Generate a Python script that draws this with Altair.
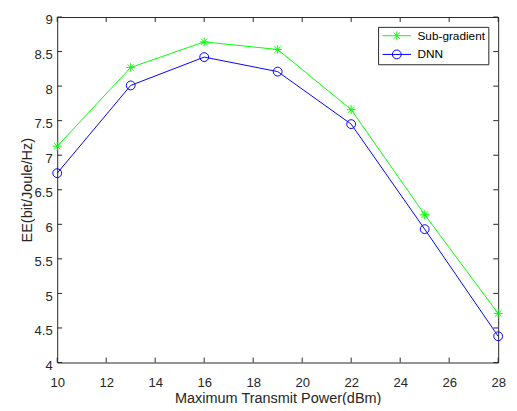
import altair as alt
import pandas as pd

power = [10, 13, 16, 19, 22, 25, 28]
sub_gradient = [7.13, 8.27, 8.64, 8.53, 7.66, 6.14, 4.71]
dnn = [6.74, 8.01, 8.42, 8.21, 7.45, 5.93, 4.38]
series_names = ["Sub-gradient", "DNN"]
series_colors = ["#00FF00", "#0000FF"]
x_ticks = [10, 12, 14, 16, 18, 20, 22, 24, 26, 28]
y_ticks = [4, 4.5, 5, 5.5, 6, 6.5, 7, 7.5, 8, 8.5, 9]

W, H = 448, 351
TICK = 5
AX = "#262626"

df = pd.DataFrame({
    "power": power + power,
    "ee": sub_gradient + dnn,
    "series": [series_names[0]] * len(power) + [series_names[1]] * len(power),
})
xt = pd.DataFrame({"power": x_ticks})
yt = pd.DataFrame({"ee": y_ticks})

star = "M-1,0L1,0M0,-1L0,1M-0.72,-0.72L0.72,0.72M-0.72,0.72L0.72,-0.72"
circ = "M-1,0A1,1 0 1,0 1,0A1,1 0 1,0 -1,0Z"
leg_star = "M-1,0L5.44,0M2.22,-1L2.22,1M1.5,-0.72L2.94,0.72M1.5,0.72L2.94,-0.72"
leg_circ = "M-1,0L5.44,0M1.22,0A1,1 0 1,0 3.22,0A1,1 0 1,0 1.22,0Z"

xs = alt.Scale(domain=[10, 28], nice=False, zero=False)
ys = alt.Scale(domain=[4, 9], nice=False, zero=False)
cs = alt.Scale(domain=series_names, range=series_colors)

x_axis = alt.Axis(values=x_ticks, title="Maximum Transmit Power(dBm)", format="~g")
y_axis = alt.Axis(values=y_ticks, title="EE(bit/Joule/Hz)", format="~g")


def X():
    return alt.X("power:Q", scale=xs, axis=x_axis)


def Y():
    return alt.Y("ee:Q", scale=ys, axis=y_axis)


layers = []
for name, col, shp in zip(series_names, series_colors, [star, circ]):
    base = alt.Chart(df).transform_filter(alt.datum.series == name)
    layers.append(base.mark_line(strokeWidth=1, color=col).encode(x=X(), y=Y()))
    layers.append(base.mark_point(shape=shp, size=81, filled=False, strokeWidth=1,
                                  color=col, opacity=1).encode(x=X(), y=Y()))

leg = alt.Legend(
    title=None, orient="none", legendX=326, legendY=10,
    fillColor="white", strokeColor=AX, padding=3, symbolSize=81,
    symbolStrokeWidth=1, labelFontSize=12, labelColor="#000000",
    labelOffset=25, rowPadding=5, cornerRadius=0)

legend_layer = alt.Chart(df).transform_filter("false").mark_point(
    size=81, filled=False, strokeWidth=1, opacity=1
).encode(
    x=X(), y=Y(),
    color=alt.Color("series:N", scale=cs, legend=leg),
    shape=alt.Shape("series:N", scale=alt.Scale(domain=series_names, range=[leg_star, leg_circ]),
                    legend=leg),
)
layers.append(legend_layer)

layers.append(alt.Chart(xt).mark_rule(color=AX, strokeWidth=1).encode(
    x=X(), y=alt.value(H), y2=alt.value(H - TICK)))
layers.append(alt.Chart(xt).mark_rule(color=AX, strokeWidth=1).encode(
    x=X(), y=alt.value(0), y2=alt.value(TICK)))
layers.append(alt.Chart(yt).mark_rule(color=AX, strokeWidth=1).encode(
    y=Y(), x=alt.value(0), x2=alt.value(TICK)))
layers.append(alt.Chart(yt).mark_rule(color=AX, strokeWidth=1).encode(
    y=Y(), x=alt.value(W), x2=alt.value(W - TICK)))

chart = alt.layer(*layers).properties(
    width=W, height=H,
    autosize=alt.AutoSizeParams(type="none"),
    padding={"left": 50, "top": 6, "right": 11, "bottom": 40},
).configure(
    font="Liberation Sans",
).configure_view(
    stroke=AX, strokeWidth=1,
).configure_axis(
    grid=False, ticks=False, domain=False, labelFlush=False,
    labelFontSize=13.3, titleFontSize=14.7,
    labelColor=AX, titleColor=AX, titleFontWeight="normal",
).configure_axisX(
    labelPadding=13, titlePadding=2,
).configure_axisY(
    labelPadding=5, titlePadding=0, labelOffset=3,
)

chart.save("out.html", embed_options={"renderer": "svg", "actions": False})
